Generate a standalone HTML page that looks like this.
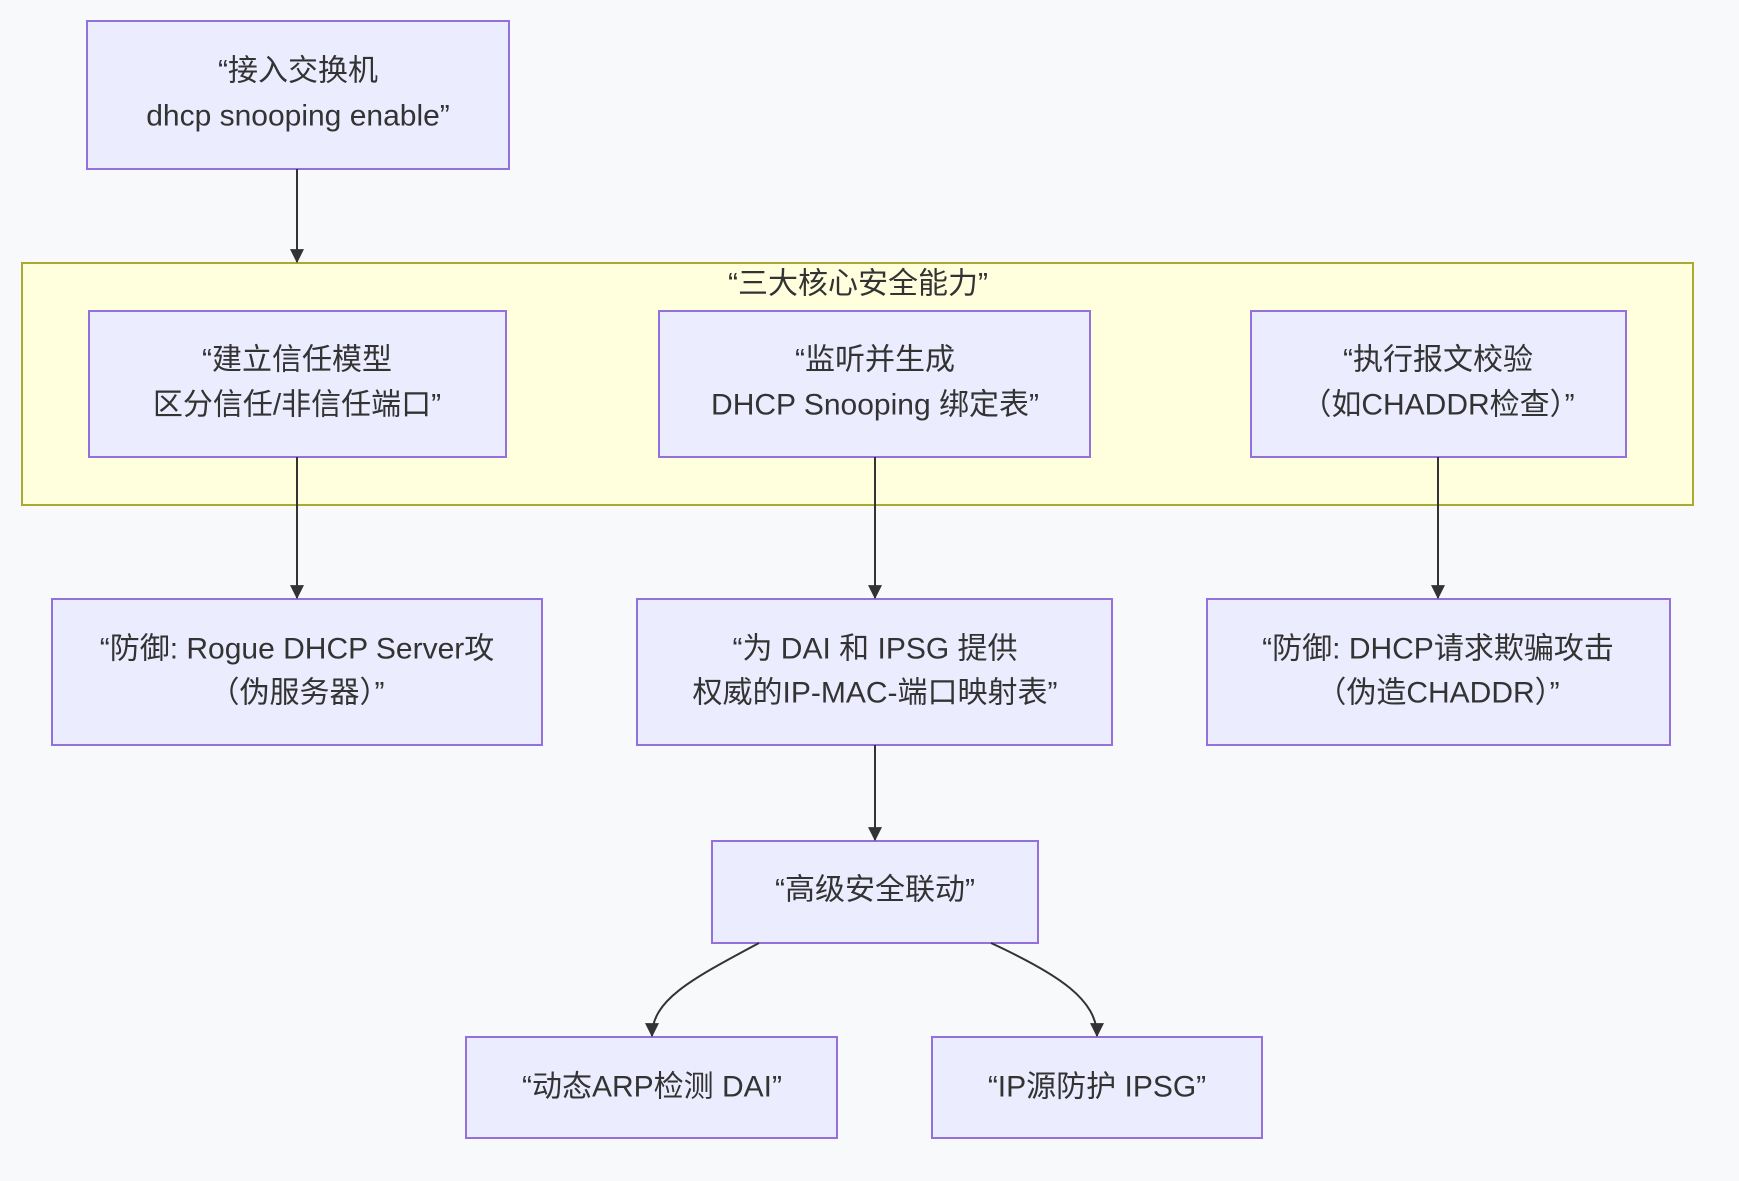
<!DOCTYPE html>
<html><head><meta charset="utf-8"><style>
html,body{margin:0;padding:0;background:#f8f9fb;}
svg{display:block;}
text{font-family:"Liberation Sans","Noto Sans CJK SC",sans-serif;font-size:30px;fill:#333;text-anchor:middle;dominant-baseline:central;}
.n{fill:#ECECFF;stroke:#9370DB;stroke-width:2;}
.e{fill:none;stroke:#333;stroke-width:2;}
</style></head><body>
<svg width="1739" height="1181" viewBox="0 0 1739 1181" xmlns="http://www.w3.org/2000/svg">
<defs><marker id="b" viewBox="0 0 12 12" refX="11" refY="6" markerWidth="14" markerHeight="14" orient="auto" markerUnits="userSpaceOnUse"><path d="M0,0L12,6L0,12z" fill="#333"/></marker></defs>
<rect x="22" y="263" width="1671" height="242" fill="#FFFFDE" stroke="#AAAA33" stroke-width="2"/>
<text x="858" y="284">“三大核心安全能力”</text>

<rect class="n" x="87" y="21" width="422" height="148"/>
<text x="298" y="71">“接入交换机</text><text x="298" y="116">dhcp snooping enable”</text>

<rect class="n" x="89" y="311" width="417" height="146"/>
<text x="297" y="360">“建立信任模型</text><text x="297" y="405">区分信任/非信任端口”</text>
<rect class="n" x="659" y="311" width="431" height="146"/>
<text x="875" y="360">“监听并生成</text><text x="875" y="405">DHCP Snooping 绑定表”</text>
<rect class="n" x="1251" y="311" width="375" height="146"/>
<text x="1438" y="360">“执行报文校验</text><text x="1438" y="405">（如CHADDR检查）”</text>

<rect class="n" x="52" y="599" width="490" height="146"/>
<text x="297" y="649">“防御: Rogue DHCP Server攻</text><text x="297" y="693">（伪服务器）”</text>
<rect class="n" x="637" y="599" width="475" height="146"/>
<text x="875" y="649">“为 DAI 和 IPSG 提供</text><text x="875" y="693">权威的IP-MAC-端口映射表”</text>
<rect class="n" x="1207" y="599" width="463" height="146"/>
<text x="1438" y="649">“防御: DHCP请求欺骗攻击</text><text x="1438" y="693">（伪造CHADDR）”</text>

<rect class="n" x="712" y="841" width="326" height="102"/>
<text x="875" y="890">“高级安全联动”</text>
<rect class="n" x="466" y="1037" width="371" height="101"/>
<text x="652" y="1087">“动态ARP检测 DAI”</text>
<rect class="n" x="932" y="1037" width="330" height="101"/>
<text x="1097" y="1087">“IP源防护 IPSG”</text>

<path class="e" d="M297,169V262" marker-end="url(#b)"/>
<path class="e" d="M297,457V598" marker-end="url(#b)"/>
<path class="e" d="M875,457V598" marker-end="url(#b)"/>
<path class="e" d="M1438,457V598" marker-end="url(#b)"/>
<path class="e" d="M875,745V840" marker-end="url(#b)"/>
<path class="e" d="M759,943C690,980 652,1000 652,1036" marker-end="url(#b)"/>
<path class="e" d="M991,943C1060,975 1097,1000 1097,1036" marker-end="url(#b)"/>
</svg>
</body></html>
